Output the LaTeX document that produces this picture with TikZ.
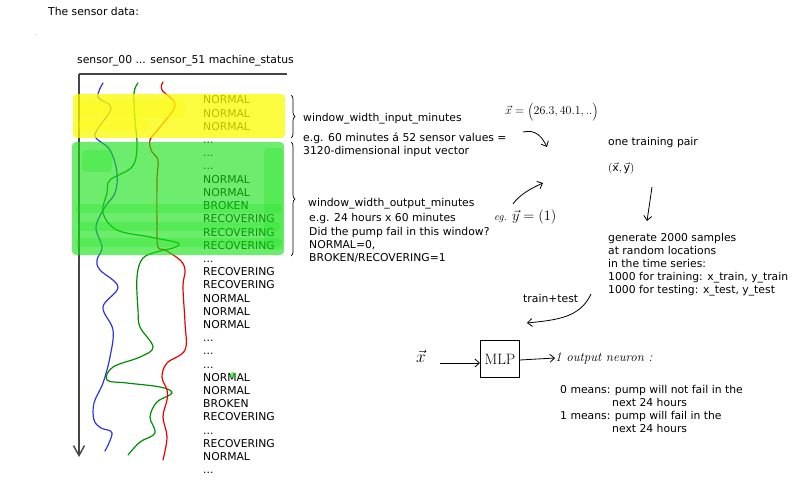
\documentclass[tikz,border=0pt]{standalone}
\usepackage{fontspec}
\setsansfont{DejaVu Sans}
\renewcommand{\familydefault}{\sfdefault}
\usetikzlibrary{arrows.meta,decorations.pathreplacing}
\definecolor{hlyellow}{RGB}{250,250,0}
\definecolor{hlgreen}{RGB}{20,225,20}
\definecolor{cblue}{RGB}{50,50,225}
\definecolor{cgreen}{RGB}{0,140,0}
\definecolor{cred}{RGB}{235,0,0}
\definecolor{axisgray}{RGB}{70,70,70}
\newcommand{\dd}{...}
\begin{document}
\begin{tikzpicture}[x=1pt,y=-1pt,
  txt/.style={font=\fontsize{10.8}{13}\selectfont, anchor=base west, inner sep=0pt},
  hand/.style={font=\rmfamily\itshape\fontsize{14}{16}\selectfont, inner sep=0pt},
  sensor/.style={line width=1.2pt, line join=round, line cap=round},
  hl/.style={rounded corners=4pt},
  brc/.style={draw, line width=0.7pt, decorate, decoration={brace, amplitude=4pt}},
  penarrow/.style={line width=0.8pt, -{Straight Barb[length=4.5pt,width=8pt]}},
  mlpbox/.style={draw, line width=0.9pt, minimum width=39pt, minimum height=37pt, inner sep=0pt, font=\rmfamily\fontsize{15}{17}\selectfont}
]
\useasboundingbox (0,0) rectangle (800,489);

% headings
\node[txt] (title) at (48,16) {The sensor data:};
\fill[gray] (36,35) circle (0.5pt);
\node[txt] (colhead) at (77,64) {sensor\_00 ... sensor\_51 machine\_status};

% sensor curves
\draw[sensor, cblue] plot[smooth, tension=0.6] coordinates {(103,83) (98,97) (111,108) (97,130) (96,138) (110,150) (117,173) (115,193) (105,207) (96,227) (102,247) (97,260) (100,270) (118,287) (103,307) (113,330) (110,357) (103,383) (94,403) (94,420) (101,428) (112,433) (105,451)};
\draw[sensor, cgreen] plot[smooth, tension=0.6] coordinates {(138,83) (134,93) (135,120) (137,147) (132,167) (110,180) (107,193) (103,213) (117,230) (150,237) (178,243) (173,248) (160,251) (143,258) (137,277) (138,310) (140,327) (153,347) (140,357) (113,367) (107,380) (127,383) (160,387) (172,393) (157,402) (150,417) (155,433) (140,442) (128,455)};
\draw[sensor, cred] plot[smooth, tension=0.6] coordinates {(163,82) (162,90) (175,105) (160,127) (150,140) (152,152) (158,160) (157,180) (157,227) (158,247) (165,250) (180,260) (185,270) (183,287) (185,323) (185,350) (167,363) (162,377) (167,390) (167,400) (163,417) (167,437) (163,460)};

% axes
\coordinate (origin) at (79,74);
\coordinate (xend) at (287,74);
\coordinate (yend) at (79,457);
\draw[axisgray, line width=1.4pt] (origin) -- (xend);
\draw[axisgray, line width=1.4pt, -{Straight Barb[length=10pt,width=11pt]}] (origin) -- (yend);

% status column
\foreach \t [count=\i from 0] in {NORMAL,NORMAL,NORMAL,\dd,\dd,\dd,NORMAL,NORMAL,BROKEN,RECOVERING,RECOVERING,RECOVERING,\dd,RECOVERING,RECOVERING,NORMAL,NORMAL,NORMAL,\dd,\dd,\dd,NORMAL,NORMAL,BROKEN,RECOVERING,\dd,RECOVERING,NORMAL,\dd}
  \node[txt] (row\i) at (203,{104+13.2*\i}) {\t};

% highlights
\fill[hl, hlyellow, opacity=0.75] (73,94) rectangle (285,138);
\fill[hl, hlyellow, opacity=0.3] (80,100) rectangle (185,118);
\fill[hl, hlyellow, opacity=0.3] (78,120) rectangle (150,130);
\fill[hl, hlgreen, opacity=0.62] (72,142) rectangle (284,255);
\fill[hl, hlgreen, opacity=0.25] (82,150) rectangle (112,172);
\fill[hl, hlgreen, opacity=0.25] (76,204) rectangle (282,213);
\fill[hl, hlgreen, opacity=0.25] (78,222) rectangle (280,231);
\fill[hl, hlgreen, opacity=0.25] (76,238) rectangle (282,247);
\fill[hl, hlgreen, opacity=0.25] (264,148) rectangle (283,250);
\fill[hlgreen, opacity=0.62] (233,375) circle (3pt);

% braces
\draw[brc] (291,95) -- (291,138);
\draw[brc] (291,142) -- (291,256);

% window texts
\node[txt] (win) at (303,122) {window\_width\_input\_minutes};
\node[txt] (win2) at (303,142) {e.g. 60 minutes á 52 sensor values =};
\node[txt] (win3) at (303,154.5) {3120-dimensional input vector};
\node[txt] (wout) at (308,207) {window\_width\_output\_minutes};
\node[txt] (wout2) at (309,222) {e.g. 24 hours x 60 minutes};
\node[txt] (wout3) at (309,235) {Did the pump fail in this window?};
\node[txt] (wout4) at (309,248) {NORMAL=0,};
\node[txt] (wout5) at (309,261) {BROKEN/RECOVERING=1};

% handwritten vectors
\node[hand, anchor=base west, font=\rmfamily\itshape\fontsize{13}{15}\selectfont] (xvec) at (505,115) {$\vec{x}=\Bigl(26.3, 40.1, ..\Bigr)$};
\node[hand, anchor=base west, font=\rmfamily\itshape\fontsize{15}{17}\selectfont] (yvec) at (494,220) {{\fontsize{11}{13}\selectfont eg.}\ $\vec{y}=\bigl(1\bigr)$};
\coordinate (xa1) at (523,132);
\coordinate (xa2) at (547,147);
\draw[penarrow] (xa1) .. controls (536,129) and (542,137) .. (xa2);
\coordinate (ya1) at (513,204);
\coordinate (ya2) at (543,183);
\draw[penarrow] (ya1) .. controls (520,194) and (532,188) .. (ya2);

% training pair
\node[txt] (pair) at (608,146) {one training pair};
\node[txt] (pairxy) at (608,172) {$(\vec{\hbox{x}},\vec{\hbox{y}})$};
\node[txt, align=left, anchor=north west, font=\fontsize{10.8}{13}\selectfont] (gen) at (608,233) {generate 2000 samples\\at random locations\\in the time series:\\1000 for training: x\_train, y\_train\\1000 for testing: x\_test, y\_test};
\draw[penarrow] (652,187) -- (647,221);

% train+test arrow
\node[txt] (tt) at (523,302) {train+test};
\coordinate (ta1) at (591,294);
\coordinate (ta2) at (527,323);
\draw[penarrow] (ta1) .. controls (580,318) and (556,320) .. (ta2);

% MLP
\node[hand, font=\rmfamily\itshape\fontsize{17}{19}\selectfont] (xin) at (421,356) {$\vec{x}$};
\node[mlpbox, anchor=north west] (mlp) at (480,340) {MLP};
\draw[penarrow] (440,363) -- (mlp.west |- 0,363);
\node[hand, anchor=west, font=\rmfamily\itshape\fontsize{13}{15}\selectfont] (outn) at (555,358) {1 output neuron :};
\draw[penarrow] (mlp.east |- 0,360) -- (outn.west);

\node[txt] (m0) at (560,393) {0 means: pump will not fail in the};
\node[txt] (m0b) at (612,406) {next 24 hours};
\node[txt] (m1) at (560,419) {1 means: pump will fail in the};
\node[txt] (m1b) at (612,432) {next 24 hours};
\end{tikzpicture}
\end{document}
